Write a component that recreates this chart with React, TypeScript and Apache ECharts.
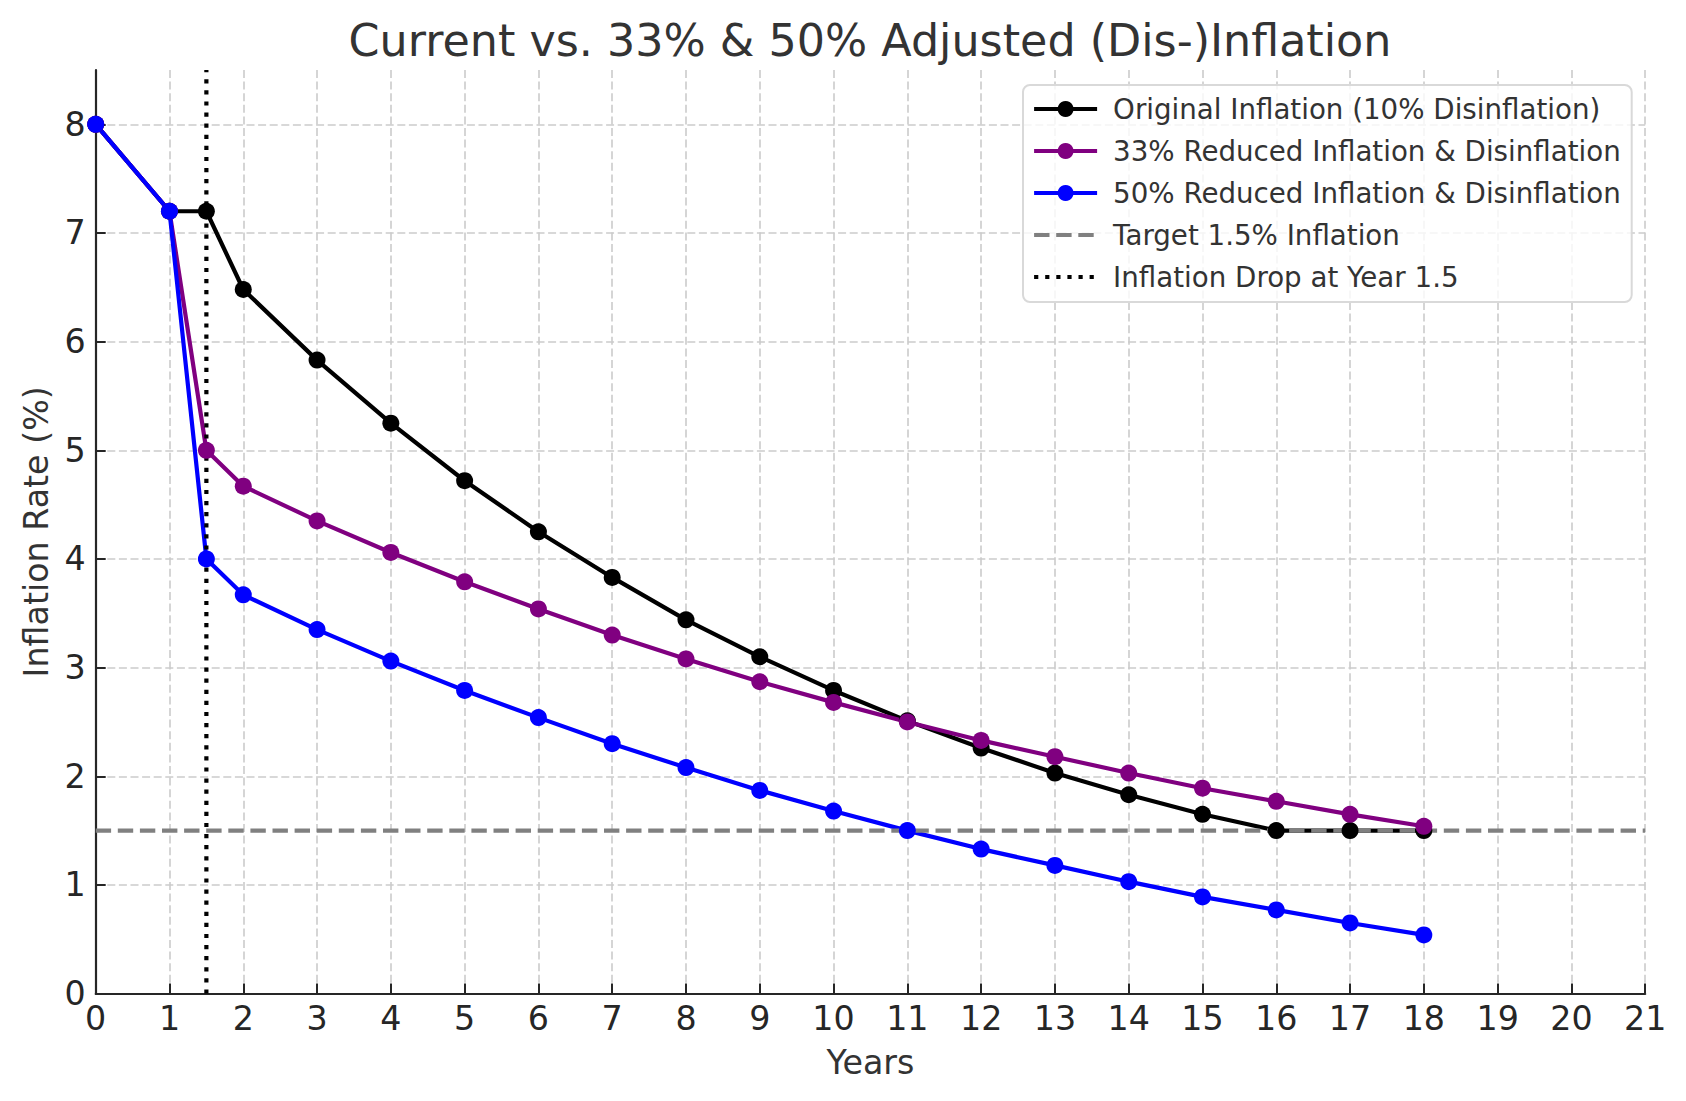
import React, { useEffect, useRef } from "react";
import * as echarts from "echarts";

const years = [0, 1, 1.5, 2, 3, 4, 5, 6, 7, 8, 9, 10, 11, 12, 13, 14, 15, 16, 17, 18];
const originalInflation = [8, 7.2, 7.2, 6.48, 5.83, 5.25, 4.72, 4.25, 3.83, 3.44, 3.1, 2.79, 2.51, 2.26, 2.03, 1.83, 1.65, 1.5, 1.5, 1.5];
const reduced33 = [8, 7.2, 5.0, 4.67, 4.35, 4.06, 3.79, 3.54, 3.3, 3.08, 2.87, 2.68, 2.5, 2.33, 2.18, 2.03, 1.89, 1.77, 1.65, 1.54];
const reduced50 = [8, 7.2, 4.0, 3.67, 3.35, 3.06, 2.79, 2.54, 2.3, 2.08, 1.87, 1.68, 1.5, 1.33, 1.18, 1.03, 0.89, 0.77, 0.65, 0.54];
const targetInflation = 1.5;
const dropYear = 1.5;
const xMin = 0;
const xMax = 21;
const yMin = 0;
const yMax = 8.5;
const yTicks = [0, 1, 2, 3, 4, 5, 6, 7, 8];

const seriesNames = [
  "Original Inflation (10% Disinflation)",
  "33% Reduced Inflation & Disinflation",
  "50% Reduced Inflation & Disinflation",
  "Target 1.5% Inflation",
  "Inflation Drop at Year 1.5",
];

const FONT = "DejaVu Sans";

export default function App() {
  const ref = useRef<HTMLDivElement>(null);
  useEffect(() => {
    document.body.style.margin = "0";
    const chart = echarts.init(ref.current!, undefined, { renderer: "svg" });
    const pair = (vals: number[]) => years.map((x, i) => [x, vals[i]]);
    const lineSeries = (name: string, vals: number[], color: string) => ({
      name,
      type: "line",
      data: pair(vals),
      symbol: "circle",
      symbolSize: 17,
      showSymbol: true,
      lineStyle: { color, width: 4.2 },
      itemStyle: { color },
      clip: true,
      emphasis: { disabled: true },
    });
    const axisText = { fontFamily: FONT, fontSize: 33.3, color: "#262626" };
    const gridLine = { show: true, lineStyle: { color: "#cbcbcb", width: 1.6, type: [8, 3.6] } };
    const option = {
      animation: false,
      backgroundColor: "#ffffff",
      textStyle: { fontFamily: FONT },
      title: {
        text: "Current vs. 33% & 50% Adjusted (Dis-)Inflation",
        left: 870,
        textAlign: "center",
        top: 18,
        padding: 0,
        textStyle: { fontFamily: FONT, fontSize: 44.4, fontWeight: "normal", color: "#333333", lineHeight: 44 },
      },
      grid: { left: 95.7, right: 40.8, top: 70, bottom: 107.4, containLabel: false, outerBoundsMode: "none" },
      legend: {
        orient: "vertical",
        left: 1023,
        top: 85,
        padding: [10, 11, 11, 9],
        itemWidth: 63,
        itemHeight: 20,
        itemGap: 14,
        backgroundColor: "rgba(255,255,255,0.8)",
        borderColor: "#d9d9d9",
        borderWidth: 2,
        borderRadius: 7,
        lineStyle: { width: 4.2 },
        textStyle: { fontFamily: FONT, fontSize: 27.7, color: "#333333", lineHeight: 28, padding: [0, 0, 0, 11] },
        data: [
          seriesNames[0],
          seriesNames[1],
          seriesNames[2],
          { name: seriesNames[3], itemStyle: { opacity: 0 } },
          { name: seriesNames[4], itemStyle: { opacity: 0 } },
        ],
      },
      xAxis: {
        type: "value",
        min: xMin,
        max: xMax,
        interval: 1,
        name: "Years",
        nameLocation: "middle",
        nameGap: 52,
        nameTextStyle: { fontFamily: FONT, fontSize: 33.3, color: "#333333" },
        axisLine: { show: true, onZero: false, lineStyle: { color: "#262626", width: 2.2 } },
        axisTick: { show: true, inside: true, length: 10, lineStyle: { color: "#262626", width: 2 } },
        axisLabel: { ...axisText, margin: 8 },
        splitLine: gridLine,
      },
      yAxis: {
        type: "value",
        min: yMin,
        max: yMax,
        interval: 1,
        name: "Inflation Rate (%)",
        nameLocation: "middle",
        nameGap: 43,
        nameTextStyle: { fontFamily: FONT, fontSize: 33.3, color: "#333333" },
        axisLine: { show: true, onZero: false, lineStyle: { color: "#262626", width: 2.2 } },
        axisTick: { show: true, inside: true, length: 10, customValues: yTicks, lineStyle: { color: "#262626", width: 2 } },
        axisLabel: { ...axisText, margin: 10, customValues: yTicks },
        splitLine: gridLine,
      },
      series: [
        lineSeries(seriesNames[0], originalInflation, "#000000"),
        lineSeries(seriesNames[1], reduced33, "#800080"),
        lineSeries(seriesNames[2], reduced50, "#0000ff"),
        {
          name: seriesNames[3],
          type: "line",
          data: [[xMin, targetInflation], [xMax, targetInflation]],
          symbol: "none",
          lineStyle: { color: "#808080", width: 4.2, type: [15.4, 6.7] },
          itemStyle: { color: "#808080" },
          emphasis: { disabled: true },
        },
        {
          name: seriesNames[4],
          type: "line",
          data: [[dropYear, yMin], [dropYear, yMax]],
          symbol: "none",
          lineStyle: { color: "#000000", width: 4.2, type: [4.2, 6.9] },
          itemStyle: { color: "#000000" },
          emphasis: { disabled: true },
        },
      ],
    };
    chart.setOption(option as any);
    return () => chart.dispose();
  }, []);
  return <div ref={ref} style={{ width: 1686, height: 1101 }} />;
}
